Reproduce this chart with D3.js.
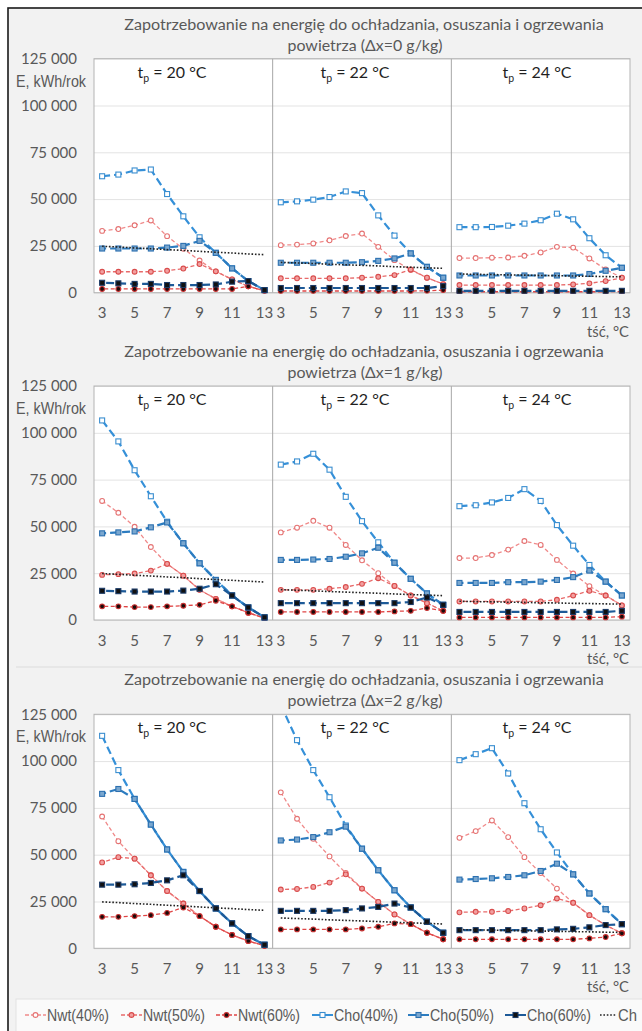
<!DOCTYPE html>
<html lang="pl">
<head>
<meta charset="UTF-8">
<title>Zapotrzebowanie na energię do ochładzania, osuszania i ogrzewania powietrza</title>
<script src="https://cdn.jsdelivr.net/npm/d3@7"></script>
<style>
    body { margin: 0; background: #fff; }
    svg { display: block; }
</style>
</head>
<body>
<script>

// categories: tść, °C (same in every tp sub-panel)
var tsc = [3, 4, 5, 6, 7, 8, 9, 10, 11, 12, 13];
var tpLabels = ["20", "22", "24"];
var dxLabels = ["0", "1", "2"];
var yTicks = [0, 25000, 50000, 75000, 100000, 125000];
var seriesNames = ["Nwt(40%)", "Nwt(50%)", "Nwt(60%)", "Cho(40%)", "Cho(50%)", "Cho(60%)", "Ch"];

// each array: 11 values for tp=20, then tp=22, then tp=24 (kWh/rok)
// Δx = 0 g/kg
var nwt40_dx0 = [33000, 34000, 36000, 38600, 30200, 23500, 17200, 11400, 7100, 3400, 1000,
                 25400, 25700, 26300, 28000, 30300, 31600, 24500, 17400, 12100, 8000, 4600,
                 18500, 18500, 18700, 18800, 19700, 21500, 24500, 24100, 18300, 12400, 8000];
var nwt50_dx0 = [11200, 11200, 11200, 11200, 11700, 12900, 15300, 11400, 7100, 3400, 1000,
                 7700, 7700, 7700, 7700, 7700, 8000, 8500, 9400, 12400, 8000, 4600,
                 4100, 4100, 4100, 4100, 4100, 4100, 4100, 4400, 5000, 6200, 8000];
var nwt60_dx0 = [2000, 2000, 2000, 2000, 2000, 2000, 2000, 2000, 2000, 3400, 1000,
                 900, 900, 900, 900, 900, 900, 900, 900, 900, 1000, 1400,
                 500, 500, 500, 500, 500, 500, 500, 500, 500, 500, 600];
var cho40_dx0 = [62200, 63100, 65300, 65800, 52700, 40800, 29600, 21300, 13000, 6200, 1400,
                 48300, 48800, 49700, 51100, 54100, 53200, 41300, 30500, 21000, 13800, 8000,
                 35000, 35000, 35100, 35800, 36900, 38700, 42200, 39200, 29100, 20000, 13300];
var cho50_dx0 = [23600, 23600, 23600, 23600, 24100, 25000, 27700, 21300, 13000, 6200, 1400,
                 16000, 16000, 16000, 16000, 16000, 16300, 17000, 18300, 21000, 13800, 8000,
                 9200, 9200, 9200, 9200, 9200, 9200, 9200, 9200, 10000, 11700, 13300];
var cho60_dx0 = [5300, 5000, 4700, 4700, 4100, 4100, 4100, 4400, 5900, 6200, 1400,
                 2500, 2500, 2500, 2500, 2500, 2500, 2500, 2500, 2500, 2500, 3500,
                 1000, 1000, 1000, 1000, 1000, 1000, 1000, 1000, 1000, 1000, 1000];

// Δx = 1 g/kg
var nwt40_dx1 = [63600, 57300, 49800, 39000, 30000, 23700, 16100, 11300, 7300, 3900, 1000,
                 46800, 49300, 53000, 49300, 40100, 31900, 25000, 18200, 13100, 9000, 4900,
                 33100, 33100, 34700, 37600, 42200, 40100, 32100, 24800, 18100, 13100, 7800];
var nwt50_dx1 = [24100, 24500, 24800, 26400, 30000, 23700, 16100, 11300, 7300, 3900, 1000,
                 16100, 16100, 16100, 16700, 17600, 19300, 22300, 18200, 13100, 9000, 4900,
                 9900, 9900, 9900, 9900, 9900, 9900, 10800, 13100, 15600, 13100, 7800];
var nwt60_dx1 = [7300, 7300, 6900, 6900, 7300, 7600, 8100, 10300, 7300, 3900, 1000,
                 4300, 4300, 4300, 4300, 4300, 4300, 4300, 4600, 4900, 6400, 4900,
                 1400, 1400, 1400, 1400, 1400, 1400, 1400, 1400, 1400, 1400, 1800];
var cho40_dx1 = [106600, 95400, 80000, 66100, 52500, 41000, 30300, 21400, 13100, 6700, 1400,
                 83000, 84700, 88800, 80300, 65800, 52800, 41500, 30600, 22000, 14200, 8100,
                 60800, 61300, 62800, 65200, 69900, 63600, 50700, 39700, 29400, 20500, 13100];
var cho50_dx1 = [46300, 46800, 47300, 49500, 52100, 41000, 30300, 21400, 13100, 6700, 1400,
                 32100, 32100, 32300, 32600, 33800, 35600, 38600, 30600, 22000, 14200, 8100,
                 19800, 19800, 19800, 20200, 20200, 20500, 21400, 22900, 26400, 20500, 13100];
var cho60_dx1 = [15600, 15400, 15200, 15200, 15200, 15700, 16700, 19100, 13100, 6700, 1400,
                 9000, 9000, 9000, 9000, 9000, 9000, 9000, 9000, 9600, 12000, 8100,
                 4300, 4300, 4300, 4300, 4300, 4300, 4300, 4300, 4300, 4300, 4900];

// Δx = 2 g/kg
var nwt40_dx2 = [70400, 57200, 47900, 39000, 30600, 23900, 17200, 11500, 7100, 3900, 1400,
                 83300, 69200, 58500, 49100, 40200, 31900, 24800, 18100, 12900, 8300, 4800,
                 59000, 62600, 68300, 59400, 48700, 40200, 31900, 24300, 17700, 12400, 8000];
var nwt50_dx2 = [45900, 48700, 47900, 39000, 30600, 23900, 17200, 11500, 7100, 3900, 1400,
                 31400, 31700, 32800, 35100, 39500, 31900, 24800, 18100, 12900, 8300, 4800,
                 19200, 19500, 19500, 19900, 21300, 23000, 26600, 24300, 17700, 12400, 8000];
var nwt60_dx2 = [16800, 16800, 17200, 17700, 18900, 21800, 17200, 11500, 7100, 3900, 1400,
                 10100, 10100, 10100, 10100, 10100, 10600, 11500, 13300, 12900, 8300, 4800,
                 4800, 4800, 4800, 4800, 4800, 4800, 4800, 4800, 5300, 6000, 8000];
var cho40_dx2 = [113500, 95200, 79800, 66100, 52800, 40800, 30600, 21300, 13300, 6500, 1900,
                 130000, 111200, 95200, 80700, 65600, 53200, 41700, 31000, 21800, 14200, 8300,
                 100500, 103700, 106900, 93400, 77500, 63600, 51200, 39500, 29300, 20900, 12900];
var cho50_dx2 = [82500, 85100, 79800, 66100, 52800, 40800, 30600, 21300, 13300, 6500, 1900,
                 57600, 58100, 59400, 62000, 65000, 53200, 41700, 31000, 21800, 14200, 8300,
                 36700, 37000, 37400, 38100, 39000, 41300, 45200, 39500, 29300, 20900, 12900];
var cho60_dx2 = [34000, 34000, 34200, 34900, 36300, 39000, 30600, 21300, 13300, 6500, 1900,
                 20000, 20000, 20000, 20000, 20400, 21300, 22100, 23900, 21800, 14200, 8300,
                 9700, 9700, 9700, 9700, 9700, 9700, 10100, 10400, 11200, 12400, 12900];

// Ch is the same in all three charts
var ch = [24800, 24400, 23900, 23500, 23000, 22600, 22100, 21600, 21200, 20700, 20300,
          16200, 15900, 15600, 15200, 14900, 14600, 14300, 13900, 13600, 13300, 13000,
          10000, 9800, 9700, 9500, 9400, 9200, 9100, 8900, 8800, 8600, 8500];

var charts = [
    [nwt40_dx0, nwt50_dx0, nwt60_dx0, cho40_dx0, cho50_dx0, cho60_dx0, ch],
    [nwt40_dx1, nwt50_dx1, nwt60_dx1, cho40_dx1, cho50_dx1, cho60_dx1, ch],
    [nwt40_dx2, nwt50_dx2, nwt60_dx2, cho40_dx2, cho50_dx2, cho60_dx2, ch]
];

// look of each series (legend order)
var styles = [
    {line: "#f08a8a", w: 1.3, dash: "4,2.5", off: 0, mark: "circle", fill: "#fff", stroke: "#e57373"},
    {line: "#e86a6a", w: 1.3, dash: "4,2.5", off: 2.2, mark: "circle", fill: "#f2a0a0", stroke: "#d94c4c"},
    {line: "#e04545", w: 1.3, dash: "4,2.5", off: 4.4, mark: "circle", fill: "#1a0a0a", stroke: "#c83030"},
    {line: "#3590d8", w: 2.2, dash: "8,4", off: 0, mark: "square", fill: "#fff", stroke: "#3a8ed0"},
    {line: "#2c7cc0", w: 2.2, dash: "8,4", off: 4, mark: "square", fill: "#7aa7cf", stroke: "#2c70b0"},
    {line: "#1d5a98", w: 2.2, dash: "8,4", off: 8, mark: "square", fill: "#111", stroke: "#1b3a66"},
    {line: "#222", w: 1.6, dash: "1.6,1.8", off: 0, mark: null}
];

var W = 642, H = 1031;
var left = 94, right = 630, plotH = 234;
var tops = [58.7, 386, 714.3];
var grey = "#595959";
var calibri = "Lato, 'Open Sans', sans-serif";
var arial = "'Liberation Sans', Arial, sans-serif";

var fmt = d3.formatLocale({decimal: ",", thousands: " ", grouping: [3], currency: ["", ""]}).format(",d");

var svg = d3.select("body").append("svg")
    .attr("width", W)
    .attr("height", H);

// frame + background
svg.append("rect").attr("x", 8).attr("y", 8).attr("width", 660).attr("height", 1060)
    .attr("fill", "#f2f2f2").attr("stroke", "#1a1a1a").attr("stroke-width", 1.6);
svg.append("line").attr("x1", 16).attr("x2", W).attr("y1", 667).attr("y2", 667)
    .attr("stroke", "#dcdcdc");

// fit a text element to a width by changing its font size
function fit(t, width) {
    var len = t.node().getComputedTextLength();
    var fs = parseFloat(t.attr("font-size"));
    t.attr("font-size", (fs * width / len).toFixed(2));
    return t;
}

// one band per point, 33 per chart
var keys = [];
tpLabels.forEach(function(tp, p) {
    tsc.forEach(function(t, i) { keys.push(p + "-" + i); });
});
var x = d3.scaleBand().domain(keys).range([left, right]);
var bw = x.bandwidth();

charts.forEach(function(series, c) {
    var top = tops[c];
    var y = d3.scaleLinear().domain([0, 125000]).range([top + plotH, top]);
    var g = svg.append("g");

    // titles
    fit(g.append("text")
        .attr("x", 364).attr("y", top - 29)
        .attr("text-anchor", "middle")
        .attr("font-family", calibri).attr("font-size", 15)
        .attr("fill", grey)
        .text("Zapotrzebowanie na energię do ochładzania, osuszania i ogrzewania"), 480);
    fit(g.append("text")
        .attr("x", 365).attr("y", top - 8)
        .attr("text-anchor", "middle")
        .attr("font-family", calibri).attr("font-size", 15)
        .attr("fill", grey)
        .text("powietrza (Δx=" + dxLabels[c] + " g/kg)"), 155);

    // plot area
    g.append("rect").attr("x", left).attr("y", top)
        .attr("width", right - left).attr("height", plotH)
        .attr("fill", "#fff");

    // grid + y axis
    var ya = g.append("g")
        .attr("transform", "translate(" + left + ",0)")
        .call(d3.axisLeft(y).tickValues(yTicks).tickSize(-(right - left)).tickPadding(17).tickFormat(fmt));
    ya.select(".domain").remove();
    ya.selectAll("line").attr("stroke", "#e3e3e3");
    ya.selectAll("text").attr("font-family", calibri).attr("font-size", 15).attr("fill", grey);

    // x axis, odd categories only
    var xa = g.append("g")
        .attr("transform", "translate(0," + (top + plotH) + ")")
        .call(d3.axisBottom(x)
            .tickValues(keys.filter(function(k) { return tsc[+k.split("-")[1]] % 2 === 1; }))
            .tickFormat(function(k) { return tsc[+k.split("-")[1]]; })
            .tickSize(0).tickPadding(15));
    xa.select(".domain").remove();
    xa.selectAll("text").attr("font-family", calibri).attr("font-size", 15).attr("fill", grey);

    fit(g.append("text")
        .attr("x", 629).attr("y", top + plotH + 44)
        .attr("text-anchor", "end")
        .attr("font-family", calibri).attr("font-size", 15)
        .attr("fill", grey)
        .text("tść, °C"), 42);

    // y title (narrow look)
    g.append("text")
        .attr("x", 16).attr("y", top + 28)
        .attr("font-family", arial).attr("font-size", 16)
        .attr("fill", grey)
        .attr("textLength", 70).attr("lengthAdjust", "spacingAndGlyphs")
        .text("E, kWh/rok");

    // panel separators and border
    [1, 2].forEach(function(p) {
        var sx = x(p + "-0");
        g.append("line").attr("x1", sx).attr("x2", sx)
            .attr("y1", top).attr("y2", top + plotH)
            .attr("stroke", "#a6a6a6").attr("stroke-width", 1);
    });
    g.append("rect").attr("x", left).attr("y", top)
        .attr("width", right - left).attr("height", plotH)
        .attr("fill", "none").attr("stroke", "#b3b3b3").attr("stroke-width", 1);

    // tp labels
    var centers = [172, 355, 537];
    tpLabels.forEach(function(tp, p) {
        var t = g.append("text")
            .attr("x", centers[p]).attr("y", top + 19)
            .attr("text-anchor", "middle")
            .attr("font-family", calibri).attr("font-size", 16)
            .attr("fill", "#1f1f1f");
        t.append("tspan").text("t");
        t.append("tspan").attr("font-size", 10.5).attr("dy", 4).text("p");
        t.append("tspan").attr("dy", -4).text(" = " + tp + " °C");
    });

    // clip to plot area
    var clipId = "clip" + c;
    svg.append("clipPath").attr("id", clipId)
        .append("rect").attr("x", left).attr("y", top - 1)
        .attr("width", right - left).attr("height", plotH + 2);
    var plot = g.append("g").attr("clip-path", "url(#" + clipId + ")");

    var line = d3.line()
        .x(function(d) { return x(d.key) + bw / 2; })
        .y(function(d) { return y(d.v); });

    series.forEach(function(vals, s) {
        var st = styles[s];
        tpLabels.forEach(function(tp, p) {
            var pts = tsc.map(function(t, i) {
                return {key: p + "-" + i, v: vals[p * tsc.length + i]};
            });
            plot.append("path")
                .datum(pts)
                .attr("d", line)
                .attr("fill", "none")
                .attr("stroke", st.line)
                .attr("stroke-width", st.w)
                .attr("stroke-dasharray", st.dash)
                .attr("stroke-dashoffset", st.off);
            if (st.mark === "circle") {
                plot.selectAll(null).data(pts).enter().append("circle")
                    .attr("cx", function(d) { return x(d.key) + bw / 2; })
                    .attr("cy", function(d) { return y(d.v); })
                    .attr("r", 2.4)
                    .attr("fill", st.fill).attr("stroke", st.stroke).attr("stroke-width", 1.1);
            } else if (st.mark === "square") {
                plot.selectAll(null).data(pts).enter().append("rect")
                    .attr("x", function(d) { return x(d.key) + bw / 2 - 2.5; })
                    .attr("y", function(d) { return y(d.v) - 2.5; })
                    .attr("width", 5).attr("height", 5)
                    .attr("fill", st.fill).attr("stroke", st.stroke).attr("stroke-width", 1.1);
            }
        });
    });
});

// legend
svg.append("rect").attr("x", 16).attr("y", 999).attr("width", 640).attr("height", 40)
    .attr("fill", "#fafafa").attr("stroke", "#e2e2e2");
var legX = [25, 121, 216, 312, 408, 505, 600];
var legText = [62, 62, 62, 64, 64, 64, 19];
var legY = 1015;
seriesNames.forEach(function(name, s) {
    var st = styles[s];
    var lg = svg.append("g").attr("transform", "translate(" + legX[s] + "," + legY + ")");
    var sw = s === 6 ? 17 : 21;
    lg.append("line").attr("x1", 0).attr("x2", sw)
        .attr("stroke", st.line)
        .attr("stroke-width", s < 3 ? 1.3 : (s < 6 ? 2 : 1.6))
        .attr("stroke-dasharray", s < 3 ? "4,2" : (s < 6 ? null : "1.6,1.8"));
    if (st.mark === "circle") {
        lg.append("circle").attr("cx", sw / 2).attr("r", 2.4)
            .attr("fill", st.fill).attr("stroke", st.stroke).attr("stroke-width", 1.1);
    } else if (st.mark === "square") {
        lg.append("rect").attr("x", sw / 2 - 2.5).attr("y", -2.5).attr("width", 5).attr("height", 5)
            .attr("fill", st.fill).attr("stroke", st.stroke).attr("stroke-width", 1.1);
    }
    lg.append("text").attr("x", sw + 1).attr("dy", "0.35em")
        .attr("font-family", arial).attr("font-size", 16.5)
        .attr("fill", grey)
        .attr("textLength", legText[s]).attr("lengthAdjust", "spacingAndGlyphs")
        .text(name);
});

</script>
</body>
</html>
